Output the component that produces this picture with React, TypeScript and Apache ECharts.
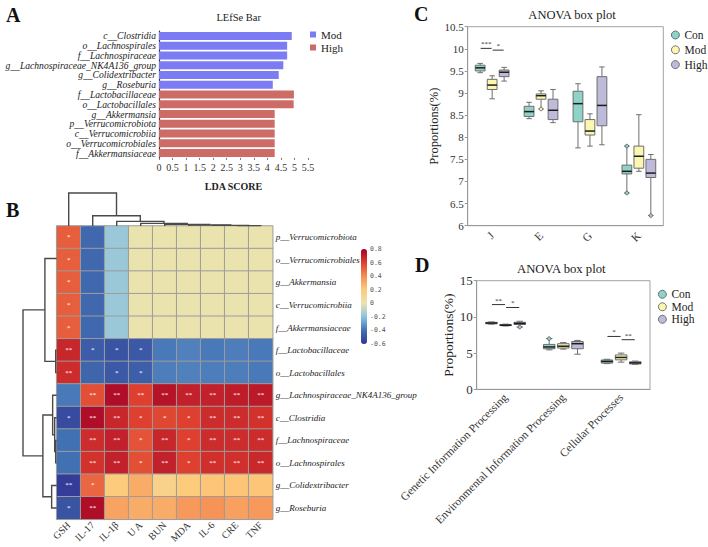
import React, { useEffect, useRef } from 'react';
import * as echarts from 'echarts';

const SERIF = 'Liberation Serif, Tinos, Times New Roman, serif';
const MONO = 'DejaVu Sans Mono, monospace';

// ---------- A: LEfSe bar ----------
const lefseTaxa = [
  'c__Clostridia', 'o__Lachnospirales', 'f__Lachnospiraceae', 'g__Lachnospiraceae_NK4A136_group',
  'g__Colidextribacter', 'g__Roseburia', 'f__Lactobacillaceae', 'o__Lactobacillales',
  'g__Akkermansia', 'p__Verrucomicrobiota', 'c__Verrucomicrobiia', 'o__Verrucomicrobiales', 'f__Akkermansiaceae',
];
const lefseGroup = ['Mod', 'Mod', 'Mod', 'Mod', 'Mod', 'Mod', 'High', 'High', 'High', 'High', 'High', 'High', 'High'];
const ldaScore = [4.9, 4.73, 4.73, 4.59, 4.42, 4.2, 4.98, 4.97, 4.27, 4.27, 4.27, 4.27, 4.27];

// ---------- B: correlation heatmap ----------
const factors = ['GSH', 'IL-17', 'IL-1β', 'U A', 'BUN', 'MDA', 'IL-6', 'CRE', 'TNF'];
const heatTaxa = [
  'p__Verrucomicrobiota', 'o__Verrucomicrobiales', 'g__Akkermansia', 'c__Verrucomicrobiia', 'f__Akkermansiaceae',
  'f__Lactobacillaceae', 'o__Lactobacillales', 'g__Lachnospiraceae_NK4A136_group', 'c__Clostridia',
  'f__Lachnospiraceae', 'o__Lachnospirales', 'g__Colidextribacter', 'g__Roseburia',
];
const corr = [
  [0.52, -0.43, -0.17, 0.0, 0.0, 0.0, 0.0, 0.0, 0.0],
  [0.52, -0.43, -0.17, 0.0, 0.0, 0.0, 0.0, 0.0, 0.0],
  [0.52, -0.43, -0.17, 0.0, 0.0, 0.0, 0.0, 0.0, 0.0],
  [0.52, -0.43, -0.17, 0.0, 0.0, 0.0, 0.0, 0.0, 0.0],
  [0.52, -0.43, -0.17, 0.0, 0.0, 0.0, 0.0, 0.0, 0.0],
  [0.68, -0.47, -0.5, -0.48, -0.38, -0.36, -0.38, -0.37, -0.38],
  [0.66, -0.44, -0.48, -0.46, -0.37, -0.36, -0.37, -0.37, -0.38],
  [-0.38, 0.56, 0.76, 0.6, 0.74, 0.7, 0.7, 0.71, 0.72],
  [-0.53, 0.76, 0.68, 0.6, 0.58, 0.6, 0.66, 0.66, 0.64],
  [-0.4, 0.66, 0.7, 0.55, 0.68, 0.6, 0.66, 0.66, 0.66],
  [-0.4, 0.64, 0.7, 0.56, 0.7, 0.6, 0.65, 0.65, 0.67],
  [-0.58, 0.5, 0.2, 0.3, 0.14, 0.2, 0.22, 0.22, 0.22],
  [-0.5, 0.76, 0.33, 0.3, 0.3, 0.36, 0.38, 0.34, 0.36],
];
const sig = [
  ['*', '', '', '', '', '', '', '', ''],
  ['*', '', '', '', '', '', '', '', ''],
  ['*', '', '', '', '', '', '', '', ''],
  ['*', '', '', '', '', '', '', '', ''],
  ['*', '', '', '', '', '', '', '', ''],
  ['**', '*', '*', '*', '', '', '', '', ''],
  ['**', '', '*', '*', '', '', '', '', ''],
  ['', '**', '**', '**', '**', '**', '**', '**', '**'],
  ['*', '**', '**', '*', '*', '*', '**', '**', '**'],
  ['', '**', '**', '*', '**', '*', '**', '**', '**'],
  ['', '**', '**', '*', '**', '*', '**', '**', '**'],
  ['**', '*', '', '', '', '', '', '', ''],
  ['*', '**', '', '', '', '', '', '', ''],
];
const colorStops = ['#313695', '#4271b3', '#8cc3e0', '#ebe3ae', '#fdcb7c', '#f58d52', '#de3f2e', '#a50026'];

// hierarchical clustering merges: [childA, childB, height]; ids >= n are earlier merges
const colLinks = [
  [7, 8, 0.01], [6, 9, 0.02], [5, 10, 0.03], [4, 11, 0.05],
  [3, 12, 0.08], [2, 13, 0.14], [1, 14, 0.31], [0, 15, 1.0],
];
const rowLinks = [
  [3, 4, 0], [2, 13, 0], [1, 14, 0], [0, 15, 0], [5, 6, 0.03], [16, 17, 0.35],
  [9, 10, 0.03], [8, 19, 0.06], [7, 20, 0.12], [11, 12, 0.15], [21, 22, 0.41], [18, 23, 1.0],
];

// ---------- C / D: ANOVA box plots ----------
const groups = ['Con', 'Mod', 'High'];
const groupColors = ['#8dd3c7', '#fbf6b0', '#bebada'];

const cTerms = ['J', 'E', 'G', 'K'];
// [min, Q1, median, Q3, max]
const cCon = [[9.46, 9.5, 9.57, 9.63, 9.67], [8.42, 8.47, 8.58, 8.7, 8.79], [7.76, 8.35, 8.76, 9.04, 9.21], [6.74, 7.17, 7.23, 7.37, 7.8]];
const cMod = [[8.87, 9.08, 9.18, 9.31, 9.39], [8.64, 8.86, 8.94, 8.98, 9.05], [7.8, 8.05, 8.14, 8.4, 8.53], [7.23, 7.3, 7.57, 7.8, 8.51]];
const cHigh = [[9.27, 9.37, 9.47, 9.52, 9.58], [8.33, 8.4, 8.61, 8.86, 9.08], [7.83, 8.26, 8.72, 9.37, 9.59], [6.23, 7.09, 7.19, 7.5, 7.61]];
const cPoints = [[3, 0, 7.8], [3, 0, 6.74], [1, 1, 8.64], [3, 2, 6.23]]; // [term, group, value]
const cSig = [[0, 0, 1, 10.01], [0, 1, 2, 9.97]]; // [term, fromGroup, toGroup, y]
const cSigText = ['***', '*'];

const dTerms = ['Genetic Information Processing', 'Environmental Information Processing', 'Cellular Processes'];
const dCon = [[9.0, 9.05, 9.15, 9.25, 9.3], [5.45, 5.6, 5.85, 6.2, 7.0], [3.55, 3.62, 3.85, 4.05, 4.15]];
const dMod = [[8.75, 8.8, 8.85, 8.95, 9.0], [5.55, 5.7, 5.95, 6.3, 6.45], [3.75, 4.07, 4.4, 4.75, 5.0]];
const dHigh = [[8.6, 8.95, 9.1, 9.25, 9.4], [4.85, 5.6, 6.3, 6.6, 6.75], [3.45, 3.5, 3.65, 3.8, 3.9]];
const dPoints = [[1, 0, 7.0], [0, 2, 8.6]];
const dSig = [[0, 0, 1, 11.7], [0, 1, 2, 11.3], [2, 0, 1, 7.3], [2, 1, 2, 6.85]];
const dSigText = ['**', '*', '*', '**'];

const BOX_STEP = 0.245;
const BOX_WIDTH = 0.2;

function dendroSegments(n: number, links: number[][]) {
  const pos: number[] = [];
  const ht: number[] = [];
  for (let i = 0; i < n; i++) { pos.push(i); ht.push(0); }
  const segs: number[][] = [];
  links.forEach(([a, b, h]) => {
    segs.push([pos[a], ht[a], pos[b], ht[b], h]);
    pos.push((pos[a] + pos[b]) / 2);
    ht.push(h);
  });
  return segs.filter((s) => s[4] > 0);
}

const dendroRenderer = (sideways: boolean) => (_p: any, api: any) => {
  const pt = (pos: number, h: number) => (sideways ? api.coord([h, pos]) : api.coord([pos, h]));
  const xL = api.value(0), hL = api.value(1), xR = api.value(2), hR = api.value(3), hM = api.value(4);
  return {
    type: 'polyline',
    shape: { points: [pt(xL, hL), pt(xL, hM), pt(xR, hM), pt(xR, hR)] },
    style: { stroke: '#4a4a4a', lineWidth: 1.4, fill: 'none' },
  };
};

const boxRenderer = (gi: number) => (_p: any, api: any) => {
  const cat = api.value(0);
  const band = api.size([1, 0])[0];
  const cx = api.coord([cat, api.value(3)])[0] + (gi - 1) * BOX_STEP * band;
  const w = BOX_WIDTH * band;
  const y = (k: number) => api.coord([cat, api.value(k)])[1];
  const yMin = y(1), yQ1 = y(2), yMed = y(3), yQ3 = y(4), yMax = y(5);
  const ln = (x1: number, y1: number, x2: number, y2: number, stroke: string, lw: number) => ({
    type: 'line', shape: { x1, y1, x2, y2 }, style: { stroke, lineWidth: lw },
  });
  const edge = '#6e6e6e';
  return {
    type: 'group',
    children: [
      ln(cx, yMax, cx, yQ3, edge, 1),
      ln(cx, yQ1, cx, yMin, edge, 1),
      ln(cx - w * 0.28, yMax, cx + w * 0.28, yMax, edge, 1),
      ln(cx - w * 0.28, yMin, cx + w * 0.28, yMin, edge, 1),
      {
        type: 'rect',
        shape: { x: cx - w / 2, y: yQ3, width: w, height: Math.max(yQ1 - yQ3, 1) },
        style: { fill: groupColors[gi], stroke: edge, lineWidth: 1 },
      },
      ln(cx - w / 2, yMed, cx + w / 2, yMed, '#1c1c1c', 1.5),
    ],
  };
};

const pointRenderer = (_p: any, api: any) => {
  const cat = api.value(0);
  const g = api.value(1);
  const band = api.size([1, 0])[0];
  const c = api.coord([cat, api.value(2)]);
  return {
    type: 'circle',
    shape: { cx: c[0] + (g - 1) * BOX_STEP * band, cy: c[1], r: 1.8 },
    style: { fill: groupColors[g], stroke: '#555', lineWidth: 0.8 },
  };
};

const sigRenderer = (labels: string[]) => (p: any, api: any) => {
  const cat = api.value(0);
  const band = api.size([1, 0])[0];
  const base = api.coord([cat, api.value(3)]);
  const x1 = base[0] + (api.value(1) - 1) * BOX_STEP * band + 0.5;
  const x2 = base[0] + (api.value(2) - 1) * BOX_STEP * band - 0.5;
  return {
    type: 'group',
    children: [
      { type: 'line', shape: { x1, y1: base[1], x2, y2: base[1] }, style: { stroke: '#333', lineWidth: 1 } },
      {
        type: 'text',
        x: (x1 + x2) / 2,
        y: base[1] - 0.5,
        style: { text: labels[p.dataIndex], align: 'center', verticalAlign: 'bottom', fontSize: 7, fontFamily: SERIF, fill: '#333' },
      },
    ],
  };
};

const boxData = (rows: number[][]) => rows.map((r, i) => [i, ...r]);

export default function App() {
  const ref = useRef<HTMLDivElement>(null);

  useEffect(() => {
    if (!ref.current) return;
    const chart = echarts.init(ref.current, null, { renderer: 'svg' });

    const heatData: number[][] = [];
    corr.forEach((row, r) => row.forEach((v, c) => heatData.push([c, r, v])));

    const serifLabel = { fontFamily: SERIF, color: '#333' };
    const hiddenAxis = { show: false };
    const letter = (text: string, x: number, y: number) => ({
      type: 'text', x, y,
      style: { text, fontFamily: SERIF, fontSize: 20, fontWeight: 'bold', fill: '#111', verticalAlign: 'middle' },
    });

    const option: any = {
      animation: false,
      backgroundColor: '#ffffff',
      textStyle: { fontFamily: SERIF },
      graphic: [
        letter('A', 6, 15),
        letter('B', 6, 209.5),
        letter('C', 414, 14),
        letter('D', 415, 265),
        { type: 'text', x: 238.7, y: 17.3, style: { text: 'LEfSe Bar', fontFamily: SERIF, fontSize: 10.5, fill: '#222', align: 'center', verticalAlign: 'middle' } },
        { type: 'text', x: 572, y: 14.7, style: { text: 'ANOVA box plot', fontFamily: SERIF, fontSize: 12.5, fill: '#222', align: 'center', verticalAlign: 'middle' } },
        { type: 'text', x: 561.3, y: 269.3, style: { text: 'ANOVA box plot', fontFamily: SERIF, fontSize: 12.7, fill: '#222', align: 'center', verticalAlign: 'middle' } },
      ],
      legend: [
        {
          orient: 'vertical', left: 310, top: 29, itemWidth: 6, itemHeight: 6, itemGap: 2, padding: 0,
          textStyle: { fontFamily: SERIF, fontSize: 11, color: '#222' },
          data: [
            { name: 'Mod', icon: 'rect', itemStyle: { color: '#7b7bf4', borderWidth: 0 } },
            { name: 'High', icon: 'rect', itemStyle: { color: '#cd6b66', borderWidth: 0 } },
          ],
          selectedMode: false,
        },
        {
          orient: 'vertical', left: 671, top: 29, itemWidth: 8, itemHeight: 8, itemGap: 2.8, padding: 0,
          textStyle: { fontFamily: SERIF, fontSize: 11.5, color: '#222' },
          data: groups.map((g, i) => ({ name: g, icon: 'circle', itemStyle: { color: groupColors[i], borderColor: '#555', borderWidth: 0.8 } })),
          selectedMode: false,
        },
        {
          orient: 'vertical', left: 658, top: 288.3, itemWidth: 8, itemHeight: 8, itemGap: 0.5, padding: 0,
          textStyle: { fontFamily: SERIF, fontSize: 11.5, color: '#222' },
          data: groups.map((g, i) => ({ name: g, icon: 'circle', itemStyle: { color: groupColors[i], borderColor: '#555', borderWidth: 0.8 } })),
          selectedMode: false,
        },
      ],
      visualMap: {
        type: 'continuous',
        seriesIndex: 2,
        min: -0.6,
        max: 0.8,
        left: 361,
        top: 249,
        itemWidth: 6,
        itemHeight: 95,
        padding: 0,
        calculable: false,
        hoverLink: false,
        inRange: { color: colorStops },
      },
      grid: [
        { left: 159, top: 31.1, width: 149, height: 126.8 },
        { left: 56.7, top: 226, width: 216, height: 293.3 },
        { left: 56.7, top: 193, width: 216, height: 33 },
        { left: 23, top: 226, width: 33.7, height: 293.3 },
        { left: 361, top: 249, width: 6, height: 95 },
        { left: 467.7, top: 26.7, width: 195.6, height: 199, show: true, borderColor: '#a3a3a3', borderWidth: 1 },
        { left: 476.7, top: 280.7, width: 173.3, height: 108.6, show: true, borderColor: '#a3a3a3', borderWidth: 1 },
      ],
      xAxis: [
        {
          gridIndex: 0, type: 'value', min: 0, max: 5.5, interval: 0.5,
          axisLine: { show: false }, axisTick: { show: true, length: 2, lineStyle: { color: '#777' } },
          splitLine: { show: false },
          axisLabel: { ...serifLabel, fontSize: 10, margin: 5 },
          name: 'LDA SCORE', nameLocation: 'middle', nameGap: 24,
          nameTextStyle: { fontFamily: SERIF, fontSize: 10, fontWeight: 'bold', color: '#222' },
        },
        {
          gridIndex: 1, type: 'category', data: factors,
          axisLine: { show: false }, axisTick: { show: false }, splitLine: { show: false },
          axisLabel: { ...serifLabel, fontSize: 10, rotate: 45, margin: 4, interval: 0 },
        },
        { gridIndex: 2, type: 'value', min: -0.5, max: 8.5, ...hiddenAxis },
        { gridIndex: 3, type: 'value', min: 0, max: 1, inverse: true, ...hiddenAxis },
        { gridIndex: 4, type: 'value', min: 0, max: 1, ...hiddenAxis },
        {
          gridIndex: 5, type: 'category', data: cTerms,
          axisLine: { lineStyle: { color: '#999' } },
          axisTick: { alignWithLabel: true, length: 3, lineStyle: { color: '#999' } },
          axisLabel: { ...serifLabel, fontSize: 11.5, rotate: 45, margin: 8 },
        },
        {
          gridIndex: 6, type: 'category', data: dTerms,
          axisLine: { lineStyle: { color: '#999' } },
          axisTick: { alignWithLabel: true, length: 3, lineStyle: { color: '#999' } },
          axisLabel: { ...serifLabel, fontSize: 11.5, rotate: 45, margin: 6, interval: 0 },
        },
      ],
      yAxis: [
        {
          gridIndex: 0, type: 'category', data: lefseTaxa, inverse: true,
          axisLine: { show: true, lineStyle: { color: '#333', width: 1.2 } }, axisTick: { show: false },
          axisLabel: { ...serifLabel, color: '#222', fontSize: 9.6, fontStyle: 'italic', margin: 3, interval: 0 },
        },
        {
          gridIndex: 1, type: 'category', data: heatTaxa, inverse: true, position: 'right',
          axisLine: { show: false }, axisTick: { show: false }, splitLine: { show: false },
          axisLabel: { ...serifLabel, color: '#222', fontSize: 9, fontStyle: 'italic', margin: 3, interval: 0 },
        },
        { gridIndex: 2, type: 'value', min: 0, max: 1, ...hiddenAxis },
        { gridIndex: 3, type: 'value', min: -0.5, max: 12.5, inverse: true, ...hiddenAxis },
        {
          gridIndex: 4, type: 'value', min: -0.6, max: 0.8, interval: 0.2, position: 'right',
          axisLine: { show: false }, axisTick: { show: false }, splitLine: { show: false },
          axisLabel: {
            fontFamily: MONO, fontSize: 6.5, color: '#555', margin: 3,
            formatter: (v: number) => (Math.abs(v) < 1e-9 ? '0' : v.toFixed(1)),
          },
        },
        {
          gridIndex: 5, type: 'value', min: 6, max: 10.5, interval: 0.5,
          axisLine: { show: true, lineStyle: { color: '#999' } },
          axisTick: { show: true, length: 3, lineStyle: { color: '#999' } },
          splitLine: { show: false },
          axisLabel: { ...serifLabel, fontSize: 11, margin: 4 },
          name: 'Proportions(%)', nameLocation: 'middle', nameGap: 25,
          nameTextStyle: { fontFamily: SERIF, fontSize: 12.5, color: '#222' },
        },
        {
          gridIndex: 6, type: 'value', min: 0, max: 15, interval: 5,
          axisLine: { show: true, lineStyle: { color: '#999' } },
          axisTick: { show: true, length: 3, lineStyle: { color: '#999' } },
          splitLine: { show: false },
          axisLabel: { ...serifLabel, fontSize: 13, margin: 4 },
          name: 'Proportions(%)', nameLocation: 'middle', nameGap: 16,
          nameTextStyle: { fontFamily: SERIF, fontSize: 13.5, color: '#222' },
        },
      ],
      series: [
        {
          name: 'Mod', type: 'bar', xAxisIndex: 0, yAxisIndex: 0, stack: 'lda', barWidth: 8,
          itemStyle: { color: '#7b7bf4' }, silent: true,
          data: ldaScore.map((v, i) => (lefseGroup[i] === 'Mod' ? v : '-')),
        },
        {
          name: 'High', type: 'bar', xAxisIndex: 0, yAxisIndex: 0, stack: 'lda', barWidth: 8,
          itemStyle: { color: '#cd6b66' }, silent: true,
          data: ldaScore.map((v, i) => (lefseGroup[i] === 'High' ? v : '-')),
        },
        {
          type: 'heatmap', xAxisIndex: 1, yAxisIndex: 1, data: heatData,
          itemStyle: { borderColor: '#9c9c9c', borderWidth: 1 },
          label: {
            show: true, color: '#ffffff', fontSize: 7, fontFamily: SERIF,
            formatter: (p: any) => sig[p.value[1]][p.value[0]],
          },
          emphasis: { disabled: true }, silent: true,
        },
        {
          type: 'custom', xAxisIndex: 2, yAxisIndex: 2, renderItem: dendroRenderer(false),
          data: dendroSegments(factors.length, colLinks), clip: false, silent: true,
        },
        {
          type: 'custom', xAxisIndex: 3, yAxisIndex: 3, renderItem: dendroRenderer(true),
          encode: { x: 1, y: 0 },
          data: dendroSegments(heatTaxa.length, rowLinks), clip: false, silent: true,
        },
        { name: 'Con', type: 'custom', xAxisIndex: 5, yAxisIndex: 5, renderItem: boxRenderer(0), data: boxData(cCon), silent: true, itemStyle: { color: groupColors[0] } },
        { name: 'Mod', type: 'custom', xAxisIndex: 5, yAxisIndex: 5, renderItem: boxRenderer(1), data: boxData(cMod), silent: true, itemStyle: { color: groupColors[1] } },
        { name: 'High', type: 'custom', xAxisIndex: 5, yAxisIndex: 5, renderItem: boxRenderer(2), data: boxData(cHigh), silent: true, itemStyle: { color: groupColors[2] } },
        { name: 'Con', type: 'custom', xAxisIndex: 6, yAxisIndex: 6, renderItem: boxRenderer(0), data: boxData(dCon), silent: true, itemStyle: { color: groupColors[0] } },
        { name: 'Mod', type: 'custom', xAxisIndex: 6, yAxisIndex: 6, renderItem: boxRenderer(1), data: boxData(dMod), silent: true, itemStyle: { color: groupColors[1] } },
        { name: 'High', type: 'custom', xAxisIndex: 6, yAxisIndex: 6, renderItem: boxRenderer(2), data: boxData(dHigh), silent: true, itemStyle: { color: groupColors[2] } },
        { type: 'custom', xAxisIndex: 5, yAxisIndex: 5, renderItem: pointRenderer, data: cPoints, silent: true, encode: { x: 0, y: 2 } },
        { type: 'custom', xAxisIndex: 6, yAxisIndex: 6, renderItem: pointRenderer, data: dPoints, silent: true, encode: { x: 0, y: 2 } },
        { type: 'custom', xAxisIndex: 5, yAxisIndex: 5, renderItem: sigRenderer(cSigText), data: cSig, silent: true, clip: false, encode: { x: 0, y: 3 } },
        { type: 'custom', xAxisIndex: 6, yAxisIndex: 6, renderItem: sigRenderer(dSigText), data: dSig, silent: true, clip: false, encode: { x: 0, y: 3 } },
      ],
    };

    chart.setOption(option);
    return () => chart.dispose();
  }, []);

  return <div ref={ref} style={{ position: 'fixed', left: 0, top: 0, width: 708, height: 547, background: '#fff' }} />;
}
